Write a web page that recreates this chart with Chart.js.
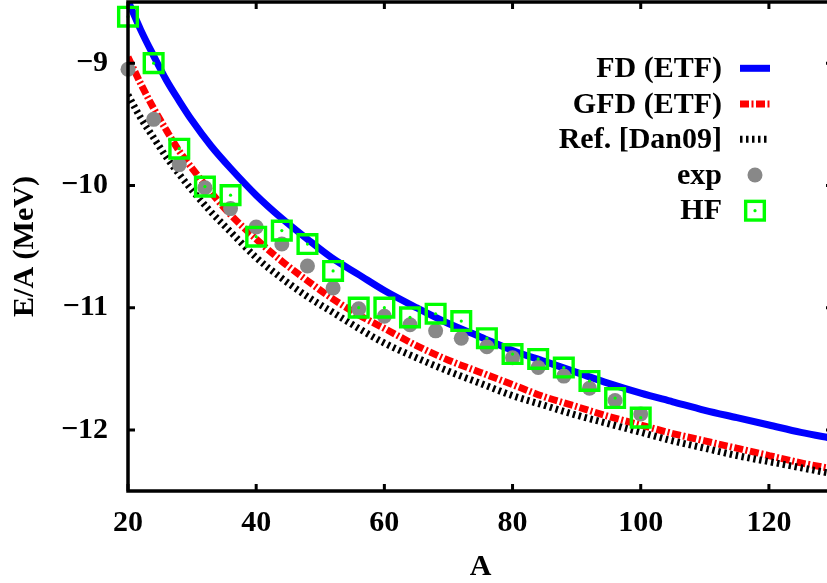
<!DOCTYPE html>
<html>
<head>
<meta charset="utf-8">
<script src="https://cdn.jsdelivr.net/npm/chart.js@4.4.0/dist/chart.umd.min.js"></script>
<style>
  html, body { margin: 0; padding: 0; overflow: hidden; background: #fff; }
  #wrap { position: absolute; left: 0; top: 0; width: 840px; height: 583px; }
</style>
</head>
<body>
<div id="wrap"><canvas id="c" width="840" height="583"></canvas></div>
<script>
// Mass numbers at which the model curves are sampled
const curveA = [20, 22, 24, 26, 28, 30, 33, 36, 40, 44, 48, 52, 56, 60, 65, 70, 75, 80, 85, 90, 95, 100, 105, 110, 115, 120, 125, 130];

// Energy per nucleon (MeV) along each model curve
const fdETF = [-8.49, -8.73, -8.94, -9.14, -9.31, -9.47, -9.68, -9.86, -10.08, -10.27, -10.44, -10.60, -10.73, -10.86,
  -11.00, -11.13, -11.24, -11.35, -11.44, -11.53, -11.62, -11.70, -11.77, -11.84, -11.90, -11.96, -12.02, -12.07];
const gfdETF = [-8.95, -9.17, -9.37, -9.55, -9.72, -9.86, -10.06, -10.24, -10.44, -10.62, -10.78, -10.93, -11.06, -11.17,
  -11.31, -11.43, -11.53, -11.63, -11.73, -11.81, -11.89, -11.96, -12.03, -12.09, -12.15, -12.21, -12.27, -12.32];
const refDan09 = [-9.26, -9.45, -9.61, -9.77, -9.91, -10.04, -10.22, -10.38, -10.59, -10.76, -10.91, -11.04, -11.17, -11.29,
  -11.41, -11.52, -11.62, -11.72, -11.80, -11.88, -11.95, -12.02, -12.09, -12.15, -12.21, -12.26, -12.31, -12.36];

// Nuclei with measured and Hartree-Fock energies
const nucleusA = [20, 24, 28, 32, 36, 40, 44, 48, 52, 56, 60, 64, 68, 72, 76, 80, 84, 88, 92, 96, 100];
const expE = [-9.05, -9.46, -9.83, -10.02, -10.19, -10.34, -10.48, -10.66, -10.84, -11.01, -11.07, -11.14, -11.19, -11.25,
  -11.32, -11.41, -11.49, -11.56, -11.66, -11.76, -11.87];
const hfE = [-8.62, -9.00, -9.70, -10.01, -10.08, -10.42, -10.37, -10.48, -10.70, -11.00, -11.00, -11.08, -11.05, -11.11,
  -11.25, -11.38, -11.42, -11.49, -11.60, -11.74, -11.90];

// Axis ticks
const xTickValues = [20, 40, 60, 80, 100, 120];
const yTickValues = [-12, -11, -10, -9];

// Legend entries
const seriesLabels = ['FD (ETF)', 'GFD (ETF)', 'Ref. [Dan09]', 'exp', 'HF'];

const FONT = '"Liberation Serif", "Times New Roman", Times, serif';
const pts = (xs, ys) => xs.map((x, i) => ({ x: x, y: ys[i] }));

const redDash = [9, 2.5, 2, 2.5];
const blackDash = [2.5, 3.5];

const datasets = [
  { label: seriesLabels[0], data: pts(curveA, fdETF), borderColor: '#0000ff', borderWidth: 7,
    pointRadius: 0, fill: false, cubicInterpolationMode: 'monotone', order: 5 },
  { label: seriesLabels[1], data: pts(curveA, gfdETF), borderColor: '#ff0000', borderWidth: 7,
    borderDash: redDash, borderCapStyle: 'butt', pointRadius: 0, fill: false, cubicInterpolationMode: 'monotone', order: 4 },
  { label: seriesLabels[2], data: pts(curveA, refDan09), borderColor: '#000000', borderWidth: 7,
    borderDash: blackDash, borderCapStyle: 'butt', pointRadius: 0, fill: false, cubicInterpolationMode: 'monotone', order: 3 },
  { label: seriesLabels[3], data: pts(nucleusA, expE), showLine: false, pointStyle: 'circle', pointRadius: 7.5,
    pointBackgroundColor: '#888888', pointBorderWidth: 0, pointBorderColor: '#888888', clip: false, order: 2 },
  { label: seriesLabels[4], data: pts(nucleusA, hfE), showLine: false, pointStyle: 'rect', pointRadius: 13.2,
    pointBackgroundColor: 'rgba(0,0,0,0)', pointBorderColor: '#00ff00', pointBorderWidth: 3.4, clip: false, order: 1 },
  { label: 'HF centre', data: pts(nucleusA, hfE), showLine: false, pointStyle: 'circle', pointRadius: 1.6,
    pointBackgroundColor: '#00ff00', pointBorderWidth: 0, clip: false, order: 0 }
];

// Closed frame with inward tick marks on all four sides
const framePlugin = {
  id: 'frame',
  afterDatasetsDraw(chart) {
    const { ctx, chartArea: a, scales: { x, y } } = chart;
    ctx.save();
    ctx.strokeStyle = '#000';
    ctx.lineWidth = 3.5;
    ctx.strokeRect(a.left, a.top, a.right - a.left, a.bottom - a.top);
    ctx.lineWidth = 3;
    const tl = 7;
    ctx.beginPath();
    xTickValues.forEach(v => {
      const px = x.getPixelForValue(v);
      ctx.moveTo(px, a.bottom); ctx.lineTo(px, a.bottom - tl);
      ctx.moveTo(px, a.top); ctx.lineTo(px, a.top + tl);
    });
    yTickValues.forEach(v => {
      const py = y.getPixelForValue(v);
      ctx.moveTo(a.left, py); ctx.lineTo(a.left + tl, py);
      ctx.moveTo(a.right, py); ctx.lineTo(a.right - tl, py);
    });
    ctx.stroke();
    ctx.restore();
  }
};

// Key drawn inside the plot: right-aligned labels followed by a sample
const keyPlugin = {
  id: 'key',
  afterDraw(chart) {
    const { ctx } = chart;
    const rows = [68.3, 104, 139.3, 175, 210.7];
    const textRight = 722, cx = 755, half = 15;
    ctx.save();
    ctx.font = 'bold 30px ' + FONT;
    ctx.fillStyle = '#000';
    ctx.textAlign = 'right';
    ctx.textBaseline = 'middle';
    for (let i = 0; i < 5; i++) {
      const ds = chart.data.datasets[i];
      const yy = rows[i];
      ctx.fillText(ds.label, textRight, yy + 1);
      if (i < 3) {
        ctx.beginPath();
        ctx.strokeStyle = ds.borderColor;
        ctx.lineWidth = ds.borderWidth;
        ctx.lineCap = 'butt';
        ctx.setLineDash(ds.borderDash || []);
        ctx.moveTo(cx - half, yy);
        ctx.lineTo(cx + half, yy);
        ctx.stroke();
        ctx.setLineDash([]);
      } else if (i === 3) {
        ctx.beginPath();
        ctx.fillStyle = ds.pointBackgroundColor;
        ctx.arc(cx, yy, ds.pointRadius, 0, Math.PI * 2);
        ctx.fill();
        ctx.fillStyle = '#000';
      } else {
        const s = ds.pointRadius * Math.SQRT1_2;
        ctx.strokeStyle = ds.pointBorderColor;
        ctx.lineWidth = ds.pointBorderWidth;
        ctx.strokeRect(cx - s, yy - s, 2 * s, 2 * s);
        ctx.beginPath();
        ctx.fillStyle = '#00ff00';
        ctx.arc(cx, yy, 1.6, 0, Math.PI * 2);
        ctx.fill();
        ctx.fillStyle = '#000';
      }
    }
    ctx.restore();
  }
};

const tickFont = { family: FONT, size: 30, weight: 'bold', lineHeight: 1.2 };
const minus = v => (v < 0 ? '\u2212' : '') + Math.abs(v);
const noEdgePadding = s => { s.paddingTop = 0; s.paddingBottom = 0; s.paddingLeft = 0; s.paddingRight = 0; };

new Chart(document.getElementById('c'), {
  type: 'line',
  data: { datasets: datasets },
  options: {
    responsive: false,
    devicePixelRatio: 1,
    animation: false,
    layout: { autoPadding: false, padding: { top: 2, right: 7, left: 0, bottom: 0 } },
    plugins: { legend: { display: false }, tooltip: { enabled: false } },
    scales: {
      x: {
        type: 'linear', min: 20, max: 130,
        afterBuildTicks: s => { s.ticks = xTickValues.map(v => ({ value: v })); },
        afterFit: s => { s.height = 92; noEdgePadding(s); },
        grid: { display: false, drawTicks: false },
        border: { display: false },
        ticks: { font: tickFont, color: '#000', padding: 14, maxRotation: 0, autoSkip: false, callback: v => minus(v) },
        title: { display: true, text: 'A', color: '#000',
          font: { family: FONT, size: 30, weight: 'bold', lineHeight: 1 }, padding: { top: 0, bottom: 1 } }
      },
      y: {
        type: 'linear', min: -12.5, max: -8.5,
        afterBuildTicks: s => { s.ticks = yTickValues.map(v => ({ value: v })); },
        afterFit: s => { s.width = 128; noEdgePadding(s); },
        grid: { display: false, drawTicks: false },
        border: { display: false },
        ticks: { font: tickFont, color: '#000', padding: 20, callback: v => minus(v) },
        title: { display: true, text: 'E/A (MeV)', color: '#000',
          font: { family: FONT, size: 30, weight: 'bold', lineHeight: 1 }, padding: { top: 10, bottom: 0 } }
      }
    }
  },
  plugins: [framePlugin, keyPlugin]
});
</script>
</body>
</html>
